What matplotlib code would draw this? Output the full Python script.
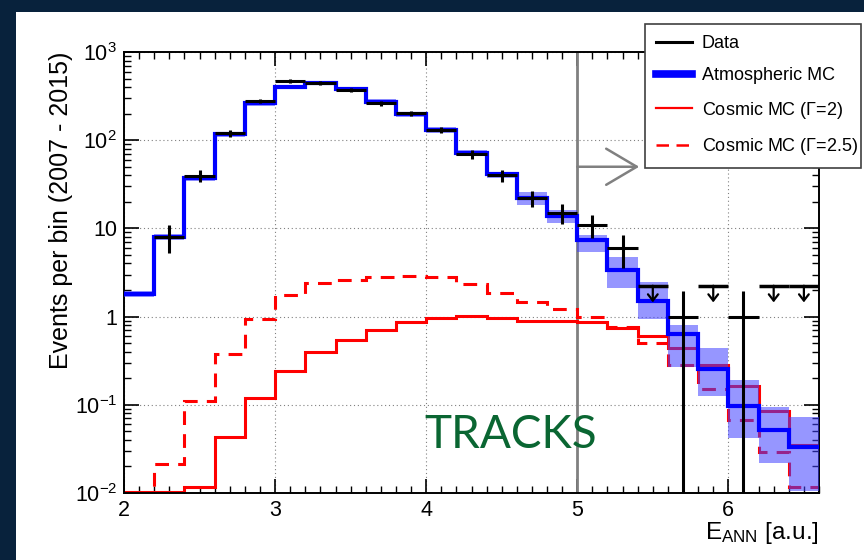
import numpy as np
import matplotlib
matplotlib.use("Agg")
import matplotlib.pyplot as plt
from matplotlib.lines import Line2D
from matplotlib.patches import Rectangle
from matplotlib.ticker import FixedLocator, FixedFormatter, LogLocator, MultipleLocator, NullFormatter

plt.rcParams['font.family'] = ['Liberation Sans', 'DejaVu Sans']
plt.rcParams['mathtext.fontset'] = 'custom'
plt.rcParams['mathtext.rm'] = 'Liberation Sans'
plt.rcParams['mathtext.it'] = 'Liberation Sans:italic'
plt.rcParams['mathtext.bf'] = 'Liberation Sans:bold'

# --- histogram contents ---
bin_edges = [2.0, 2.2, 2.4, 2.6, 2.8, 3.0, 3.2, 3.4, 3.6, 3.8, 4.0, 4.2,
             4.4, 4.6, 4.8, 5.0, 5.2, 5.4, 5.6, 5.8, 6.0, 6.2, 6.4, 6.6]

atm_mc = [1.8, 8.0, 37, 117, 262, 404, 441, 378, 274, 197, 131, 72,
          41, 21.9, 13.8, 7.3, 3.4, 1.52, 0.64, 0.254, 0.096, 0.052, 0.033]
atm_lo = [1.65, 7.4, 34.5, 109, 246, 382, 418, 357, 258, 185, 122, 66,
          37, 18.4, 11.5, 5.45, 2.09, 0.94, 0.27, 0.125, 0.042, 0.022, 0.0105]
atm_hi = [1.95, 8.6, 39.5, 125, 278, 427, 466, 400, 290, 210, 141, 78,
          44, 26, 16.2, 8.4, 4.7, 2.5, 0.80, 0.44, 0.19, 0.094, 0.072]

cosmic_g20 = [0.0102, 0.0102, 0.0118, 0.043, 0.119, 0.244, 0.40, 0.54, 0.70, 0.86,
              0.96, 1.02, 0.97, 0.90, 0.88, 0.87, 0.74, 0.60, 0.44, 0.28,
              0.163, 0.084, 0.035]
cosmic_g25 = [0.008, 0.0213, 0.111, 0.38, 0.93, 1.76, 2.4, 2.6, 2.83, 2.85,
              2.8, 2.35, 1.84, 1.45, 1.22, 1.0, 0.76, 0.50, 0.28, 0.15,
              0.068, 0.029, 0.0116]

data_x = [2.3, 2.5, 2.7, 2.9, 3.1, 3.3, 3.5, 3.7, 3.9, 4.1, 4.3, 4.5,
          4.7, 4.9, 5.1, 5.3, 5.7, 6.1]
data_y = [8, 39.5, 120, 278, 470, 449, 371, 262, 202, 131, 70, 40,
          22, 15, 11, 6, 1, 1]
data_err_lo = [2.8, 6.2, 11, 17, 22, 21, 19, 16, 14, 11.4, 8.4, 6.3,
               4.7, 3.9, 3.3, 2.4, 0.9999, 0.9999]
data_err_hi = [2.8, 6.2, 11, 17, 22, 21, 19, 16, 14, 11.4, 8.4, 6.3,
               4.7, 3.9, 3.3, 2.4, 0.95, 0.95]

limit_x = [5.5, 5.9, 6.3, 6.5]
limit_y = [2.24, 2.24, 2.24, 2.24]
limit_arrow_to = [1.45, 1.45, 1.45, 1.45]

cut_value = 5.0
cut_arrow_y = 50
cut_arrow_end = 5.41

half_bin = 0.1

navy = '#08223c'
blue = '#0000ff'
red = '#ff0000'


def draw_chart():
    fig = plt.figure(figsize=(8.64, 5.60), dpi=100, facecolor=navy)
    fig.patches.append(Rectangle((16 / 864, 0), 1, 1 - 12 / 560,
                                 transform=fig.transFigure, facecolor='white',
                                 edgecolor='none', zorder=-10))
    ax = fig.add_axes([124 / 864, 1 - 493 / 560, 695 / 864, 441 / 560])
    ax.set_facecolor('white')

    ax.set_yscale('log')
    ax.set_xlim(2, 6.6)
    ax.set_ylim(0.01, 1000)

    # cut line and arrow
    ax.axvline(cut_value, color='#808080', lw=2, zorder=1.5)
    ax.annotate('', xy=(cut_arrow_end, cut_arrow_y), xytext=(cut_value, cut_arrow_y),
                arrowprops=dict(arrowstyle='->,head_length=2.2,head_width=1.3',
                                color='#808080', lw=1.8, mutation_scale=10,
                                shrinkA=0, shrinkB=0), zorder=1.6)

    # cosmic MC
    ax.stairs(cosmic_g25, bin_edges, baseline=None, color=red, lw=2.2,
              linestyle=(0, (4.5, 3.0)), zorder=2)
    ax.stairs(cosmic_g20, bin_edges, baseline=None, color=red, lw=2.2, zorder=2.1)

    # atmospheric MC with band
    ax.stairs(atm_hi, bin_edges, baseline=atm_lo, fill=True,
              color='#4040ff', alpha=0.55, lw=0, zorder=3)
    ax.stairs(atm_mc, bin_edges, baseline=None, color=blue, lw=3, zorder=4)

    # data
    ax.errorbar(data_x, data_y, xerr=half_bin, yerr=[data_err_lo, data_err_hi],
                fmt='none', ecolor='black', elinewidth=2.2, capsize=0, zorder=5)
    ax.errorbar(limit_x, limit_y, xerr=half_bin, fmt='none', ecolor='black',
                elinewidth=2.5, capsize=0, zorder=5)
    for x, y0, y1 in zip(limit_x, limit_y, limit_arrow_to):
        ax.annotate('', xy=(x, y1), xytext=(x, y0),
                    arrowprops=dict(arrowstyle='->,head_length=0.45,head_width=0.35',
                                    color='black', lw=1.6, mutation_scale=10,
                                    shrinkA=0, shrinkB=0), zorder=5)

    # axes styling (ROOT look)
    ax.grid(True, which='major', color='#808080', linestyle=(0, (1, 2.5)), lw=0.8)
    ax.set_axisbelow(True)
    ax.xaxis.set_major_locator(FixedLocator([2, 3, 4, 5, 6]))
    ax.xaxis.set_minor_locator(MultipleLocator(0.1))
    ax.yaxis.set_major_locator(FixedLocator([0.01, 0.1, 1, 10, 100, 1000]))
    ax.yaxis.set_major_formatter(FixedFormatter(
        [r'$10^{-2}$', r'$10^{-1}$', '1', '10', r'$10^{2}$', r'$10^{3}$']))
    ax.yaxis.set_minor_locator(LogLocator(base=10, subs=np.arange(2, 10), numticks=20))
    ax.yaxis.set_minor_formatter(NullFormatter())
    ax.tick_params(which='both', direction='in', top=True, right=True,
                   colors='black', labelsize=15.5)
    ax.tick_params(which='major', length=10, width=1.2, pad=5)
    ax.tick_params(which='minor', length=5, width=1)
    ax.tick_params(axis='y', which='major', length=11)
    for sp in ax.spines.values():
        sp.set_linewidth(1.4)

    ax.set_ylabel('Events per bin (2007 - 2015)', fontsize=18, loc='top')
    ax.yaxis.set_label_coords(-0.074, 1.0)
    ax.set_xlabel(r'E$_{\rm ANN}$ [a.u.]', fontsize=17.5, loc='right')
    ax.xaxis.set_label_coords(1.0, -0.062)

    ax.text(0.557, 0.102, 'TRACKS', transform=ax.transAxes, ha='center',
            va='baseline', fontsize=33, color='#0a6632', family=['Lato', 'DejaVu Sans'],
            zorder=6)

    handles = [
        Line2D([], [], color='black', lw=2.2),
        Line2D([], [], color=blue, lw=5.5),
        Line2D([], [], color=red, lw=1.6),
        Line2D([], [], color=red, lw=1.8, linestyle=(0, (5, 3))),
    ]
    labels = ['Data', 'Atmospheric MC', r'Cosmic MC ($\Gamma$=2)', r'Cosmic MC ($\Gamma$=2.5)']
    leg = ax.legend(handles, labels, loc='upper left',
                    bbox_to_anchor=(645 / 864, 1 - 163 / 560, 216 / 864, 139 / 560),
                    bbox_transform=fig.transFigure, mode='expand', borderaxespad=0,
                    fontsize=13, labelspacing=0.85, handlelength=2.0,
                    handletextpad=0.55, borderpad=0.6, fancybox=False,
                    framealpha=1, edgecolor='#404040')
    leg.get_frame().set_linewidth(1.2)
    leg.set_zorder(10)

    fig.savefig('out.png', dpi=100, facecolor=navy)


def main():
    draw_chart()


if __name__ == "__main__":
    main()
